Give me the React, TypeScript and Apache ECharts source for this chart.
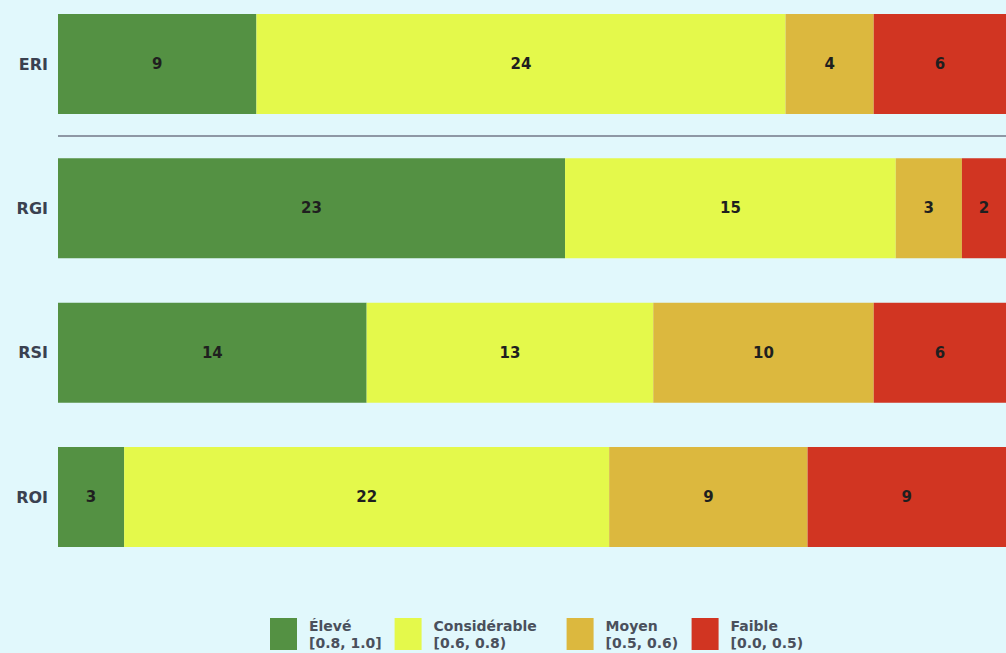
import React, { useEffect, useRef } from "react";
import * as echarts from "echarts";

const categories = ["ERI", "RGI", "RSI", "ROI"];
const eleve = [9, 23, 14, 3];
const considerable = [24, 15, 13, 22];
const moyen = [4, 3, 10, 9];
const faible = [6, 2, 6, 9];
const seriesNames = ["Élevé", "Considérable", "Moyen", "Faible"];
const seriesRanges = ["[0.8, 1.0]", "[0.6, 0.8)", "[0.5, 0.6)", "[0.0, 0.5)"];
const colors = ["#549143", "#e4f94b", "#dcb83e", "#d13522"];
const totalMax = 43;

export default function App() {
  const ref = useRef<HTMLDivElement>(null);
  useEffect(() => {
    if (!ref.current) return;
    const chart = echarts.init(ref.current, null, { renderer: "svg" });
    const data = [eleve, considerable, moyen, faible];
    const font = "'DejaVu Sans', 'Open Sans', sans-serif";
    const textWidths = [70, 120, 73, 72];
    const rich: Record<string, any> = {};
    textWidths.forEach((w, i) => {
      rich["w" + i] = {
        fontFamily: font,
        fontSize: 14,
        fontWeight: 700,
        color: "#4a505c",
        lineHeight: 17,
        width: w,
      };
    });
    chart.setOption({
      animation: false,
      backgroundColor: "#e1f8fc",
      grid: { left: 58, width: 958, top: 64, height: 433, containLabel: false },
      xAxis: { type: "value", min: 0, max: totalMax, show: false },
      yAxis: {
        type: "category",
        data: categories,
        inverse: true,
        boundaryGap: false,
        axisLine: { show: false },
        axisTick: { show: false },
        splitLine: { show: false },
        axisLabel: {
          margin: 10,
          fontFamily: font,
          fontSize: 16,
          fontWeight: 700,
          color: "#3a4150",
        },
      },
      legend: {
        left: 270,
        top: 618,
        padding: 0,
        itemWidth: 27,
        itemHeight: 32,
        itemGap: 13,
        icon: "rect",
        data: seriesNames,
        formatter: (name: string) => {
          const i = seriesNames.indexOf(name);
          return `{w${i}|${name}}\n{w${i}|${seriesRanges[i]}}`;
        },
        textStyle: {
          fontFamily: font,
          color: "#4a505c",
          padding: [0, 0, 0, 7],
          rich,
        },
      },
      series: seriesNames.map((name, i) => ({
        name,
        type: "bar",
        stack: "total",
        barWidth: 100,
        itemStyle: { color: colors[i] },
        label: {
          show: true,
          position: "inside",
          fontFamily: font,
          fontSize: 15,
          fontWeight: 700,
          color: "#1f1f1f",
        },
        data: data[i],
      })),
    });
    const y0 = chart.convertToPixel({ yAxisIndex: 0 }, categories[0]) as number;
    const y1 = chart.convertToPixel({ yAxisIndex: 0 }, categories[1]) as number;
    const x0 = chart.convertToPixel({ xAxisIndex: 0 }, 0) as number;
    const ym = Math.round((y0 + y1) / 2);
    chart.setOption({
      graphic: [
        {
          type: "line",
          shape: { x1: x0, y1: ym, x2: 1006, y2: ym },
          style: { stroke: "#8e98a5", lineWidth: 2 },
        },
      ],
    });
    return () => chart.dispose();
  }, []);
  return (
    <div
      ref={ref}
      style={{ position: "absolute", left: 0, top: 0, width: 1006, height: 653 }}
    />
  );
}
